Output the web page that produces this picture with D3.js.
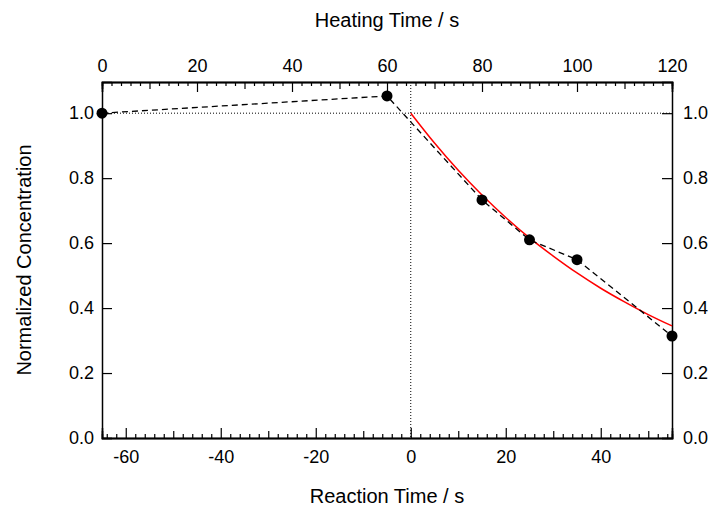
<!DOCTYPE html>
<meta charset="utf-8">
<style>
  body { margin: 0; background: #fff; }
  svg { font-family: "Liberation Sans", Arial, sans-serif; }
  .tick text { font-size: 18px; fill: #000; }
  .axis path, .axis line { stroke: #000; }
  .title { font-size: 20px; fill: #000; }
</style>
<body>
<script src="https://d3js.org/d3.v7.min.js"></script>
<script>
  // measured points
  const reactionTime = [-65, -5, 15, 25, 35, 55];
  const concentration = [1.0, 1.053, 0.733, 0.61, 0.549, 0.314];
  // exponential fit
  const fitTime = [0, 5, 10, 15, 20, 25, 30, 35, 40, 45, 50, 55];
  const fitConc = [1.0, 0.908, 0.824, 0.748, 0.679, 0.616, 0.560, 0.508, 0.461, 0.419, 0.380, 0.345];
  // tick values
  const bottomMajor = [-60, -40, -20, 0, 20, 40];
  const topMajor = [0, 20, 40, 60, 80, 100, 120];
  const yMajor = [0, 0.2, 0.4, 0.6, 0.8, 1.0];

  const width = 709, height = 507;
  const pLeft = 102, pRight = 672, pTop = 82, pBottom = 438;

  const x = d3.scaleLinear().domain([-65, 55]).range([pLeft, pRight]);
  const xTop = d3.scaleLinear().domain([0, 120]).range([pLeft, pRight]);
  const y = d3.scaleLinear().domain([0, 1.096]).range([pBottom, pTop]);

  const svg = d3.select("body").append("svg")
    .attr("width", width).attr("height", height);

  // dotted guide lines
  svg.append("line")
    .attr("x1", pLeft).attr("x2", pRight)
    .attr("y1", y(1)).attr("y2", y(1))
    .attr("stroke", "#000").attr("stroke-width", 1)
    .attr("stroke-dasharray", "1,2");
  svg.append("line")
    .attr("x1", x(0)).attr("x2", x(0))
    .attr("y1", pTop).attr("y2", pBottom)
    .attr("stroke", "#000").attr("stroke-width", 1)
    .attr("stroke-dasharray", "1,2");

  // minor / medium ticks (no labels)
  const minorB = d3.range(-64, 56, 2).filter(v => v % 10 !== 0);
  const medB = d3.range(-60, 56, 10).filter(v => v % 20 !== 0);
  const minorT = d3.range(0, 121, 2).filter(v => v % 10 !== 0);
  const medT = d3.range(10, 121, 20);

  const intFmt = d => String(d);  // plain hyphen, like the original
  const decFmt = d => d.toFixed(1);

  function addAxis(axis, tx, ty) {
    const g = svg.append("g").attr("class", "axis")
      .attr("transform", `translate(${tx},${ty})`)
      .call(axis);
    g.selectAll("path").attr("stroke-width", 1.5);
    g.selectAll("line").attr("stroke-width", 1.2);
    return g;
  }

  addAxis(d3.axisBottom(x).tickValues(minorB).tickSize(-4).tickFormat(""), 0, pBottom);
  addAxis(d3.axisBottom(x).tickValues(medB).tickSize(-7).tickFormat(""), 0, pBottom);
  addAxis(d3.axisBottom(x).tickValues(bottomMajor).tickSize(-10).tickPadding(12)
    .tickFormat(intFmt), 0, pBottom);

  addAxis(d3.axisTop(xTop).tickValues(minorT).tickSize(-4).tickFormat(""), 0, pTop);
  addAxis(d3.axisTop(xTop).tickValues(medT).tickSize(-7).tickFormat(""), 0, pTop);
  addAxis(d3.axisTop(xTop).tickValues(topMajor).tickSize(-10).tickPadding(10)
    .tickFormat(intFmt), 0, pTop);

  addAxis(d3.axisLeft(y).tickValues(yMajor).tickSize(-10).tickPadding(8)
    .tickFormat(decFmt), pLeft, 0);
  addAxis(d3.axisRight(y).tickValues(yMajor).tickSize(-10).tickPadding(11)
    .tickFormat(decFmt), pRight, 0);

  // fit curve
  svg.append("path")
    .datum(fitTime.map((t, i) => [t, fitConc[i]]))
    .attr("fill", "none")
    .attr("stroke", "#ff0000")
    .attr("stroke-width", 1.5)
    .attr("d", d3.line().x(d => x(d[0])).y(d => y(d[1])).curve(d3.curveMonotoneX));

  // dashed connecting line
  const pts = reactionTime.map((t, i) => [t, concentration[i]]);
  svg.append("path")
    .datum(pts)
    .attr("fill", "none")
    .attr("stroke", "#000")
    .attr("stroke-width", 1.3)
    .attr("stroke-dasharray", "6,4")
    .attr("d", d3.line().x(d => x(d[0])).y(d => y(d[1])));

  svg.append("g").selectAll("circle")
    .data(pts)
    .join("circle")
      .attr("cx", d => x(d[0]))
      .attr("cy", d => y(d[1]))
      .attr("r", 5.5)
      .attr("fill", "#000");

  // axis titles
  svg.append("text").attr("class", "title")
    .attr("x", (pLeft + pRight) / 2).attr("y", 27)
    .attr("text-anchor", "middle")
    .text("Heating Time / s");
  svg.append("text").attr("class", "title")
    .attr("x", (pLeft + pRight) / 2).attr("y", 503)
    .attr("text-anchor", "middle")
    .text("Reaction Time / s");
  svg.append("text").attr("class", "title")
    .attr("transform", `translate(31,${(pTop + pBottom) / 2}) rotate(-90)`)
    .attr("text-anchor", "middle")
    .text("Normalized Concentration");
</script>
</body>
